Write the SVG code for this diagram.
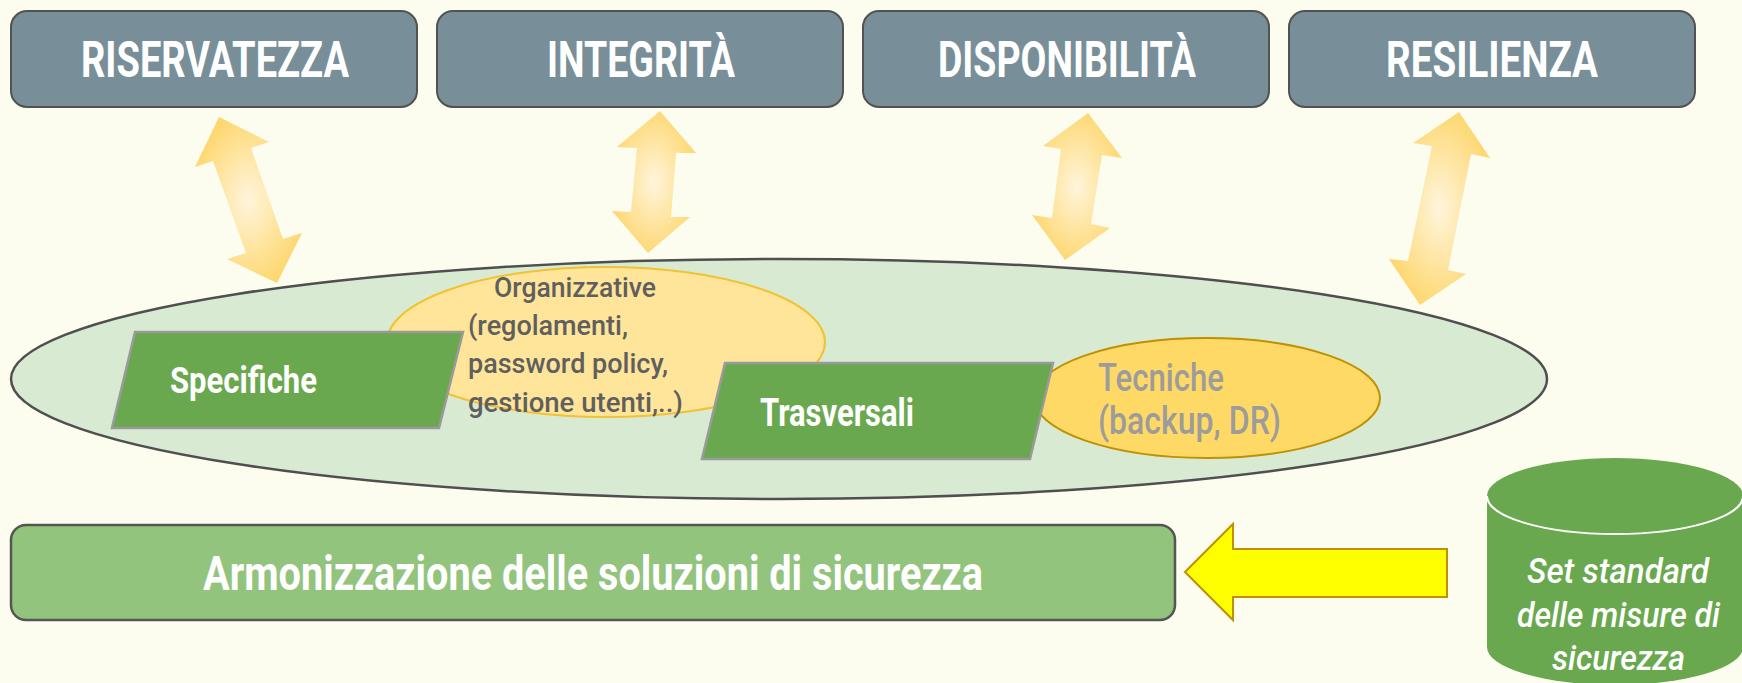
<svg xmlns="http://www.w3.org/2000/svg" width="1742" height="683" viewBox="0 0 1742 683">
<defs>
<radialGradient id="ag" cx="0.5" cy="0.5" r="0.55">
<stop offset="0" stop-color="#fff5dc"/>
<stop offset="1" stop-color="#fdd66c"/>
</radialGradient>
<style>
.title{fill:#788f9a;stroke:#525252;stroke-width:2}
.tt{font-family:Roboto,"Liberation Sans",sans-serif;font-weight:700;font-size:50px;fill:#ffffff}
.dbl{fill:url(#ag);stroke:none}
.para{fill:#6aa84f;stroke:#9a9a9a;stroke-width:2.5}
.wt{font-family:Roboto,"Liberation Sans",sans-serif;font-weight:700;fill:#ffffff}
.gt{font-family:Roboto,"Liberation Sans",sans-serif;font-weight:500;fill:#5f5f5f;font-size:28px}
.lt{font-family:Roboto,"Liberation Sans",sans-serif;font-weight:500;fill:#9c9c9c;font-size:38px}
.it{font-family:Roboto,"Liberation Sans",sans-serif;font-weight:500;font-style:italic;fill:#ffffff;font-size:35px}
</style>
</defs>
<rect width="1742" height="683" fill="#fcfcef"/>

<g id="riservatezza">
<rect class="title" x="11" y="11" width="406" height="96" rx="16"/>
<text class="tt" x="81" y="77" textLength="268" lengthAdjust="spacingAndGlyphs">RISERVATEZZA</text>
</g>
<g id="integrita">
<rect class="title" x="437" y="11" width="406" height="96" rx="16"/>
<text class="tt" x="547" y="77" textLength="188" lengthAdjust="spacingAndGlyphs">INTEGRITÀ</text>
</g>
<g id="disponibilita">
<rect class="title" x="863" y="11" width="406" height="96" rx="16"/>
<text class="tt" x="938" y="77" textLength="258" lengthAdjust="spacingAndGlyphs">DISPONIBILITÀ</text>
</g>
<g id="resilienza">
<rect class="title" x="1289" y="11" width="406" height="96" rx="16"/>
<text class="tt" x="1386" y="77" textLength="212" lengthAdjust="spacingAndGlyphs">RESILIENZA</text>
</g>

<g id="misure">
<ellipse cx="779" cy="379" rx="768" ry="120" fill="#d9ead3" stroke="#4f4f4f" stroke-width="2.5"/>
</g>
<g id="organizzative">
<ellipse cx="606" cy="342" rx="219" ry="75" fill="#ffe599" stroke="#f1c232" stroke-width="2"/>
</g>
<g id="tecniche">
<ellipse cx="1207" cy="398" rx="173" ry="60" fill="#ffd966" stroke="#bf9000" stroke-width="2"/>
<text class="lt" x="1098" y="391" textLength="126" lengthAdjust="spacingAndGlyphs">Tecniche</text>
<text class="lt" x="1098" y="434" textLength="183" lengthAdjust="spacingAndGlyphs">(backup, DR)</text>
</g>
<g id="specifiche">
<polygon class="para" points="135,332 463,332 439,428 112,428"/>
<text class="wt" x="170" y="393" font-size="37" textLength="147" lengthAdjust="spacingAndGlyphs">Specifiche</text>
</g>
<g id="trasversali">
<polygon class="para" points="725,363 1053,363 1030,459 702,459"/>
<text class="wt" x="760" y="426" font-size="38" textLength="154" lengthAdjust="spacingAndGlyphs">Trasversali</text>
</g>
<g id="organizzative-text">
<text class="gt" x="494" y="297" textLength="162" lengthAdjust="spacingAndGlyphs">Organizzative</text>
<text class="gt" x="468" y="335" textLength="160" lengthAdjust="spacingAndGlyphs">(regolamenti,</text>
<text class="gt" x="468" y="373" textLength="200" lengthAdjust="spacingAndGlyphs">password policy,</text>
<text class="gt" x="468" y="412" textLength="215" lengthAdjust="spacingAndGlyphs">gestione utenti,..)</text>
</g>

<g id="armonizzazione">
<rect x="11" y="525" width="1164" height="95" rx="15" fill="#93c47d" stroke="#555555" stroke-width="2.5"/>
<text class="wt" x="203" y="590" font-size="48" textLength="780" lengthAdjust="spacingAndGlyphs">Armonizzazione delle soluzioni di sicurezza</text>
</g>

<g id="set-standard">
<path d="M1487,496 A128,38 0 0 1 1743,496 L1743,647 A128,38 0 0 1 1487,647 Z" fill="#6aa84f"/>
<path d="M1487,496 A128,38 0 0 0 1743,496" fill="none" stroke="#ffffff" stroke-width="2"/>
<text class="it" x="1527" y="583" textLength="182" lengthAdjust="spacingAndGlyphs">Set standard</text>
<text class="it" x="1517" y="627" textLength="203" lengthAdjust="spacingAndGlyphs">delle misure di</text>
<text class="it" x="1552" y="670" textLength="133" lengthAdjust="spacingAndGlyphs">sicurezza</text>
</g>

<g id="connectors">
<polygon class="dbl" points="219,117 269,142 251,148 283,239 302,233 277,283 227,259 246,253 213,161 195,167"/>
<polygon class="dbl" points="660,111 696,153 676,153 671,217 690,217 648,253 612,211 631,212 637,148 617,147"/>
<polygon class="dbl" points="1088,113 1122,158 1102,155 1091,224 1110,228 1065,260 1032,215 1052,218 1061,149 1043,146"/>
<polygon class="dbl" points="1459,112 1490,158 1471,154 1448,270 1466,274 1420,305 1389,259 1408,261 1432,146 1413,143"/>
<polygon points="1185,572 1233,524 1233,549 1447,549 1447,597 1233,597 1233,620" fill="#ffff00" stroke="#bf9000" stroke-width="2"/>
</g>
</svg>
